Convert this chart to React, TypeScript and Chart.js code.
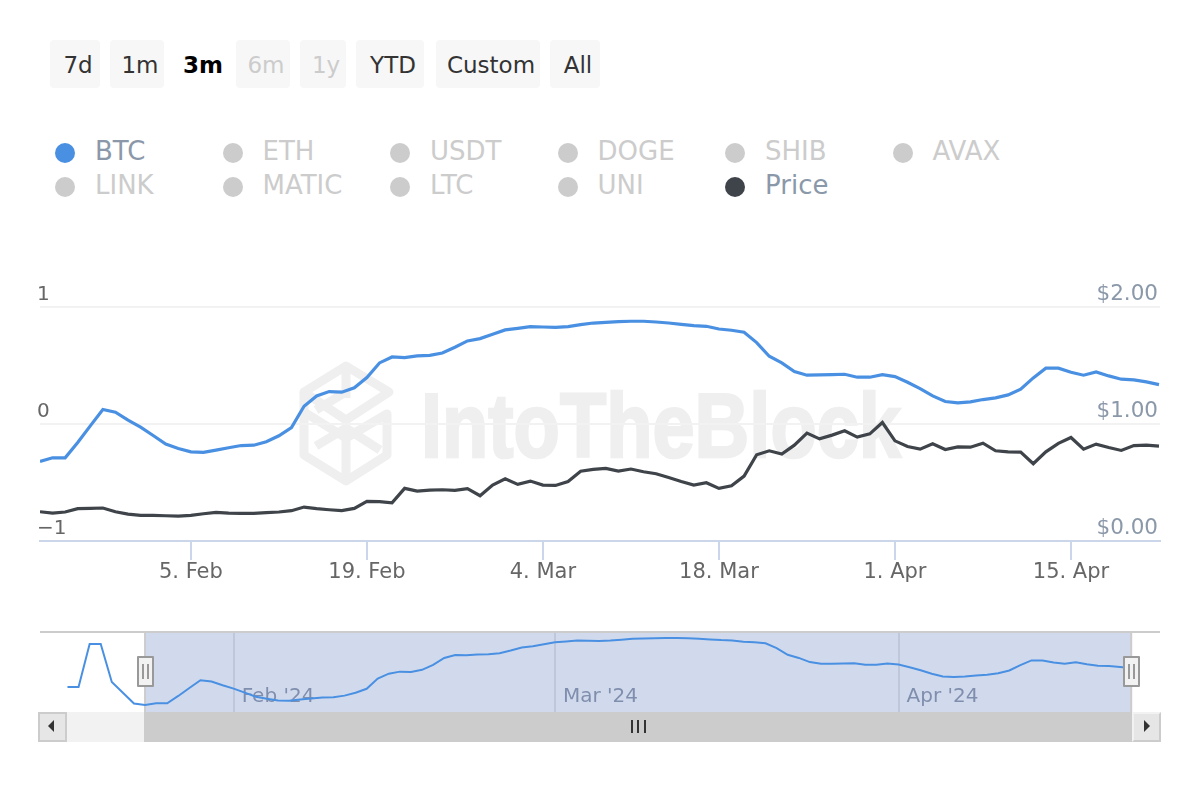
import { useEffect, useRef } from "react";
import { Chart, registerables } from "chart.js";

Chart.register(...registerables);

const FONT = '"DejaVu Sans", sans-serif';

const btcValues = [
  -0.32, -0.289, -0.289, -0.158, -0.016, 0.124, 0.101, 0.033, -0.027, -0.098,
  -0.172, -0.209, -0.238, -0.243, -0.223, -0.203, -0.184, -0.181, -0.152, -0.101,
  -0.03, 0.152, 0.24, 0.277, 0.272, 0.309, 0.397, 0.522, 0.573, 0.568,
  0.582, 0.587, 0.607, 0.656, 0.71, 0.73, 0.767, 0.804, 0.818, 0.832,
  0.829, 0.826, 0.832, 0.849, 0.863, 0.869, 0.875, 0.878, 0.878, 0.872,
  0.863, 0.852, 0.841, 0.835, 0.812, 0.801, 0.784, 0.696, 0.579, 0.522,
  0.448, 0.417, 0.42, 0.422, 0.425, 0.4, 0.4, 0.422, 0.405, 0.357,
  0.303, 0.24, 0.192, 0.181, 0.189, 0.209, 0.223, 0.249, 0.297, 0.394,
  0.477, 0.477, 0.442, 0.417, 0.445, 0.411, 0.383, 0.377, 0.36, 0.337,
];

const priceValues = [
  0.25, 0.239, 0.248, 0.276, 0.279, 0.282, 0.25, 0.23, 0.219, 0.219,
  0.216, 0.213, 0.219, 0.233, 0.245, 0.239, 0.236, 0.236, 0.242, 0.248,
  0.259, 0.29, 0.276, 0.267, 0.259, 0.279, 0.339, 0.336, 0.327, 0.45,
  0.427, 0.435, 0.438, 0.432, 0.447, 0.387, 0.478, 0.532, 0.484, 0.512,
  0.478, 0.475, 0.509, 0.597, 0.612, 0.62, 0.597, 0.615, 0.592, 0.575,
  0.543, 0.509, 0.478, 0.498, 0.45, 0.472, 0.555, 0.737, 0.771, 0.743,
  0.819, 0.922, 0.873, 0.905, 0.942, 0.888, 0.916, 1.013, 0.856, 0.808,
  0.785, 0.831, 0.782, 0.805, 0.802, 0.836, 0.771, 0.762, 0.76, 0.66,
  0.762, 0.834, 0.885, 0.785, 0.828, 0.799, 0.774, 0.816, 0.819, 0.811,
];

// days before the selected range, only visible in the navigator
const navLeadValues = [0.002, 0.002, 0.771, 0.771, 0.091, -0.1, -0.293];

const tickDays = [12, 26, 40, 54, 68, 82];
const tickLabels = ["5. Feb", "19. Feb", "4. Mar", "18. Mar", "1. Apr", "15. Apr"];
const navTickDays = [8, 37, 68];
const navTickLabels = ["Feb '24", "Mar '24", "Apr '24"];
const leftTicks = ["\u22121", "0", "1"];
const rightTicks = ["$0.00", "$1.00", "$2.00"];

const rangeButtons = ["7d", "1m", "3m", "6m", "1y", "YTD", "Custom", "All"];
const rangeLefts = [50, 110, 172, 236, 300, 356, 436, 550];
const rangeWidths = [50, 54, 56, 54, 46, 68, 104, 50];

const legendRows = [
  ["BTC", "ETH", "USDT", "DOGE", "SHIB", "AVAX"],
  ["LINK", "MATIC", "LTC", "UNI", "Price"],
];

const BLUE = "#4a90e2";
const DARK = "#3f444a";

const selectionPlugin = {
  id: "selection",
  beforeDatasetsDraw(chart: any) {
    const { ctx, chartArea, scales } = chart;
    const left = scales.x.getPixelForValue(0);
    const right = scales.x.getPixelForValue(89);
    ctx.save();
    ctx.fillStyle = "rgba(102,133,194,0.3)";
    ctx.fillRect(left, chartArea.top, right - left, chartArea.bottom - chartArea.top);
    ctx.fillStyle = "#cccccc";
    ctx.fillRect(left - 1, chartArea.top, 2, chartArea.bottom - chartArea.top);
    ctx.fillRect(right - 1, chartArea.top, 2, chartArea.bottom - chartArea.top);
    ctx.fillRect(chartArea.left, chartArea.top - 2, chartArea.right - chartArea.left, 2);
    ctx.restore();
  },
};

function RangeButtons() {
  return (
    <>
      {rangeButtons.map((label, i) => {
        const active = label === "3m";
        const disabled = label === "6m" || label === "1y";
        return (
          <div
            key={label}
            style={{
              position: "absolute",
              left: rangeLefts[i],
              top: 40,
              width: rangeWidths[i],
              height: 48,
              lineHeight: "50px",
              textAlign: "center",
              textIndent: 6,
              fontSize: 23,
              borderRadius: 4,
              background: active ? "transparent" : "#f7f7f7",
              fontWeight: active ? 700 : 400,
              color: active ? "#000" : disabled ? "#cccccc" : "#333333",
            }}
          >
            {label}
          </div>
        );
      })}
    </>
  );
}

function SeriesLegend() {
  return (
    <>
      {legendRows.map((row, r) =>
        row.map((name, c) => {
          const on = name === "BTC" || name === "Price";
          const dot = name === "BTC" ? BLUE : name === "Price" ? DARK : "#cccccc";
          const left = 55 + c * 167.5;
          const top = 142 + r * 34;
          return (
            <div key={name}>
              <div
                style={{
                  position: "absolute",
                  left,
                  top: top + 1,
                  width: 20,
                  height: 20,
                  borderRadius: 10,
                  background: dot,
                }}
              />
              <div
                style={{
                  position: "absolute",
                  left: left + 40,
                  top: top - 9,
                  lineHeight: "36px",
                  fontSize: 26,
                  whiteSpace: "nowrap",
                  color: on ? "#8a98a9" : "#cccccc",
                }}
              >
                {name}
              </div>
            </div>
          );
        })
      )}
    </>
  );
}

function Watermark() {
  const c = "#efefef";
  return (
    <svg
      width={1200}
      height={800}
      style={{ position: "absolute", left: 0, top: 0, filter: "blur(0.6px)" }}
    >
      <g fill="none" stroke={c} strokeWidth={9} strokeLinejoin="round">
        <path d="M304 392 L346 366 L389 392 L346 420 Z" />
        <path d="M346 366 L346 398 M316 410 L346 392 M304 392 L304 455 L346 481 L387 455 L387 414 L346 438 L304 412" />
        <path d="M346 438 L346 481 M316 446 L346 428 L380 450" />
      </g>
      <text
        x={421}
        y={457}
        textLength={480}
        lengthAdjust="spacingAndGlyphs"
        fontFamily='"Liberation Sans", sans-serif'
        fontWeight={700}
        fontSize={90}
        fill={c}
        stroke={c}
        strokeWidth={2.5}
      >
        IntoTheBlock
      </text>
    </svg>
  );
}

function Handle({ left }: { left: number }) {
  return (
    <div
      style={{
        position: "absolute",
        left,
        top: 656,
        width: 13,
        height: 27,
        background: "#f2f2f2",
        border: "2px solid #999999",
        borderRadius: 1,
      }}
    >
      <div style={{ position: "absolute", left: 3, top: 6, width: 2, height: 15, background: "#999999" }} />
      <div style={{ position: "absolute", left: 8, top: 6, width: 2, height: 15, background: "#999999" }} />
    </div>
  );
}

function Scrollbar() {
  const btn = {
    position: "absolute" as const,
    top: 712,
    height: 26,
    width: 25,
    background: "#e6e6e6",
    border: "2px solid #cccccc",
  };
  const arrow = {
    position: "absolute" as const,
    top: 6,
    width: 0,
    height: 0,
    borderTop: "6px solid transparent",
    borderBottom: "6px solid transparent",
  };
  return (
    <>
      <div style={{ position: "absolute", left: 67, top: 712, width: 78, height: 30, background: "#f2f2f2" }} />
      <div style={{ position: "absolute", left: 144, top: 712, width: 988, height: 30, background: "#cccccc" }} />
      {[631, 637, 644].map((x) => (
        <div key={x} style={{ position: "absolute", left: x, top: 720, width: 2, height: 13, background: "#333333" }} />
      ))}
      <div style={{ ...btn, left: 38 }}>
        <div style={{ ...arrow, left: 8, borderRight: "6px solid #333333" }} />
      </div>
      <div style={{ ...btn, left: 1132, border: "2px solid #f2f2f2", borderRight: "2px solid #cccccc", borderBottom: "2px solid #cccccc" }}>
        <div style={{ ...arrow, left: 10, borderLeft: "6px solid #333333" }} />
      </div>
    </>
  );
}

export default function App() {
  const chartRef = useRef<HTMLCanvasElement | null>(null);
  const navRef = useRef<HTMLCanvasElement | null>(null);

  useEffect(() => {
    if (!chartRef.current || !navRef.current) return;

    const main = new Chart(chartRef.current, {
      type: "line",
      data: {
        datasets: [
          {
            label: "BTC",
            data: btcValues.map((y, i) => ({ x: i, y })),
            borderColor: BLUE,
            borderWidth: 3.2,
            pointRadius: 0,
            yAxisID: "yLeft",
          },
          {
            label: "Price",
            data: priceValues.map((y, i) => ({ x: i, y })),
            borderColor: DARK,
            borderWidth: 3.2,
            pointRadius: 0,
            yAxisID: "yRight",
          },
        ],
      },
      options: {
        responsive: false,
        animation: false,
        layout: { padding: { left: 40, right: 40, top: 307, bottom: 0 } },
        plugins: { legend: { display: false }, tooltip: { enabled: false } },
        scales: {
          x: {
            type: "linear",
            min: 0,
            max: 89.08,
            afterFit: (scale: any) => {
              scale.height = 259;
            },
            afterBuildTicks: (scale: any) => {
              scale.ticks = tickDays.map((value) => ({ value }));
            },
            grid: { drawOnChartArea: false, color: "#ccd6eb", lineWidth: 2, tickLength: 19 },
            border: { color: "#ccd6eb", width: 2 },
            ticks: {
              autoSkip: false,
              maxRotation: 0,
              padding: 0,
              color: "#666666",
              font: { family: FONT, size: 21 },
              callback: (value: any) => tickLabels[tickDays.indexOf(value)],
            },
          },
          yLeft: {
            position: "left",
            min: -1,
            max: 1,
            border: { display: false },
            grid: { color: "#f2f2f2", lineWidth: 2, drawTicks: false },
            afterBuildTicks: (scale: any) => {
              scale.ticks = [-1, 0, 1].map((value) => ({ value }));
            },
            ticks: {
              mirror: true,
              padding: -1,
              color: "#666666",
              font: { family: FONT, size: 20, lineHeight: 1.2 },
              // empty second line lifts the label above its grid line
              callback: (value: any) => [leftTicks[value + 1], ""],
            },
          },
          yRight: {
            position: "right",
            min: 0,
            max: 2,
            border: { display: false },
            grid: { display: false, drawTicks: false },
            afterBuildTicks: (scale: any) => {
              scale.ticks = [0, 1, 2].map((value) => ({ value }));
            },
            ticks: {
              mirror: true,
              padding: 0,
              color: "#8a98a9",
              font: { family: FONT, size: 21.5, lineHeight: 1.15 },
              callback: (value: any) => [rightTicks[value], ""],
            },
          },
        },
      },
    } as any);

    const nav = new Chart(navRef.current, {
      type: "line",
      data: {
        datasets: [
          {
            label: "BTC",
            data: [...navLeadValues, ...btcValues].map((y, i) => ({ x: i - navLeadValues.length, y })),
            borderColor: BLUE,
            borderWidth: 2,
            pointRadius: 0,
          },
        ],
      },
      options: {
        responsive: false,
        animation: false,
        layout: { padding: { left: 40, right: 40, top: 633, bottom: 88 } },
        plugins: { legend: { display: false }, tooltip: { enabled: false } },
        scales: {
          x: {
            type: "linear",
            min: -9.48,
            max: 91.6,
            afterFit: (scale: any) => {
              scale.height = 0;
            },
            afterBuildTicks: (scale: any) => {
              scale.ticks = navTickDays.map((value) => ({ value }));
            },
            grid: { color: "#e6e6e6", lineWidth: 2, drawTicks: false },
            border: { display: false },
            ticks: {
              autoSkip: false,
              maxRotation: 0,
              align: "start",
              labelOffset: 8,
              mirror: true,
              padding: 3,
              color: "#8b93a4",
              font: { family: FONT, size: 20 },
              callback: (value: any) => navTickLabels[navTickDays.indexOf(value)],
            },
          },
          y: { display: false, min: -0.445, max: 0.968 },
        },
      },
      plugins: [selectionPlugin],
    } as any);

    return () => {
      main.destroy();
      nav.destroy();
    };
  }, []);

  return (
    <div
      style={{
        position: "absolute",
        left: 0,
        top: 0,
        width: 1200,
        height: 800,
        overflow: "hidden",
        background: "#fff",
        fontFamily: FONT,
      }}
    >
      <Watermark />
      <RangeButtons />
      <SeriesLegend />
      <canvas ref={chartRef} width={1200} height={800} style={{ position: "absolute", left: 0, top: 0 }} />
      <Scrollbar />
      <canvas ref={navRef} width={1200} height={800} style={{ position: "absolute", left: 0, top: 0 }} />
      <Handle left={137} />
      <Handle left={1123} />
    </div>
  );
}
